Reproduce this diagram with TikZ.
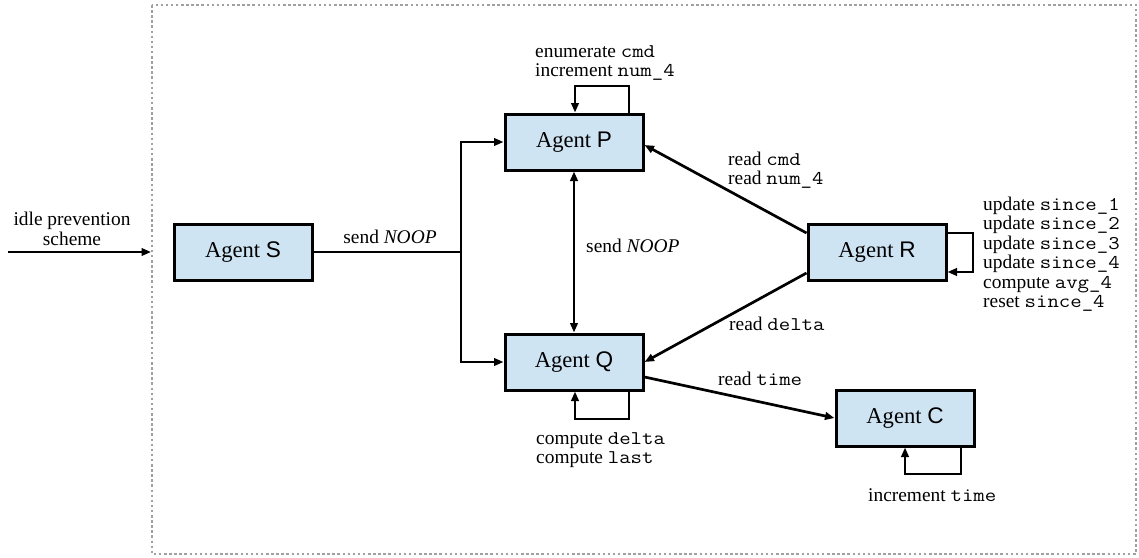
\documentclass[tikz,border=0pt]{standalone}
\usepackage{fontspec}
\setmainfont{Liberation Serif}
\setsansfont{Liberation Sans}
\setmonofont[FakeStretch=1.143]{Latin Modern Mono}
\usetikzlibrary{arrows.meta}
\definecolor{agentfill}{RGB}{207,228,243}
\definecolor{framegray}{RGB}{160,160,160}
\tikzset{
  agent/.style={draw=black, fill=agentfill, line width=3pt, minimum width=138pt,
    minimum height=56pt, inner sep=0pt, font=\fontsize{22.6}{24}\selectfont},
  tip/.tip={Triangle[length=9.5pt,width=7.5pt]},
  conn/.style={line width=2.7pt, -tip},
  both/.style={line width=2.7pt, tip-tip},
  plain/.style={line width=2.7pt},
  lbl/.style={inner sep=0pt, anchor=west, align=left, font=\fontsize{19.4}{19.5}\selectfont},
  clbl/.style={inner sep=0pt, align=center, font=\fontsize{19.4}{19.5}\selectfont},
}
\begin{document}
\begin{tikzpicture}[x=1pt, y=-1pt]
  \useasboundingbox (0,0) rectangle (1139,557);
  % system boundary
  \draw[framegray, line width=2.5pt, dash pattern=on 2.5pt off 2.6pt] (152,5) rectangle (1136,554);

  % agents
  \node[agent] (S) at (243,252) {Agent \textsf{S}};
  \node[agent] (P) at (574,142) {Agent \textsf{P}};
  \node[agent] (Q) at (574,362) {Agent \textsf{Q}};
  \node[agent] (R) at (877,252) {Agent \textsf{R}};
  \node[agent] (C) at (905,418) {Agent \textsf{C}};

  % external input
  \coordinate (ext) at (8,252);
  \coordinate (frameL) at (151,252);
  \draw[conn] (ext) -- (frameL);
  \node[clbl] (extlbl) at (72,229) {idle prevention\\scheme};

  % S fans out to P and Q
  \coordinate (jn) at (461,252);
  \draw[plain] (S.east) -- (jn);
  \draw[conn] (jn) |- (P.west);
  \draw[conn] (jn) |- (Q.west);
  \node[clbl] (snoop) at (390,237) {send \textit{NOOP}};

  % P <-> Q
  \draw[both] (P.south) -- (Q.north);
  \node[lbl] (pqnoop) at (586,246) {send \textit{NOOP}};

  % self loop on P
  \coordinate (ptop) at (0,86);
  \draw[conn] ([xshift=55pt]P.north) -- ([xshift=55pt]P.north |- ptop)
     -- ([xshift=1pt]P.north |- ptop) -- ([xshift=1pt]P.north);
  \node[lbl] (plbl) at (535,63) {enumerate \texttt{cmd}\\increment \texttt{num\_4}};

  % self loop on Q
  \coordinate (qbot) at (0,419);
  \draw[conn] ([xshift=55pt]Q.south) -- ([xshift=55pt]Q.south |- qbot)
     -- ([xshift=1pt]Q.south |- qbot) -- ([xshift=1pt]Q.south);
  \node[lbl] (qlbl) at (536,450) {compute \texttt{delta}\\compute \texttt{last}};

  % R reads from P and Q
  \draw[conn] ([yshift=19pt]R.west) -- ([yshift=-3pt]P.east);
  \node[lbl] (rplbl) at (728,170) {read \texttt{cmd}\\read \texttt{num\_4}};
  \draw[conn] ([yshift=-21pt]R.west) -- (Q.east);
  \node[lbl] (rqlbl) at (729,324) {read \texttt{delta}};

  % self loop on R
  \coordinate (rside) at (973,0);
  \draw[conn] ([yshift=19pt]R.east) -- ([yshift=19pt]R.east -| rside)
     -- ([yshift=-20pt]R.east -| rside) -- ([yshift=-20pt]R.east);
  \node[lbl] (rlbl) at (983,254) {update \texttt{since\_1}\\update \texttt{since\_2}\\update \texttt{since\_3}\\update \texttt{since\_4}\\compute \texttt{avg\_4}\\reset \texttt{since\_4}};

  % Q reads from C
  \draw[conn] ([yshift=-15pt]Q.east) -- (C.west);
  \node[lbl] (qclbl) at (718,379) {read \texttt{time}};

  % self loop on C
  \coordinate (cbot) at (0,474);
  \draw[conn] ([xshift=56pt]C.south) -- ([xshift=56pt]C.south |- cbot)
     -- (C.south |- cbot) -- (C.south);
  \node[lbl] (clbl) at (868,495) {increment \texttt{time}};
\end{tikzpicture}
\end{document}
